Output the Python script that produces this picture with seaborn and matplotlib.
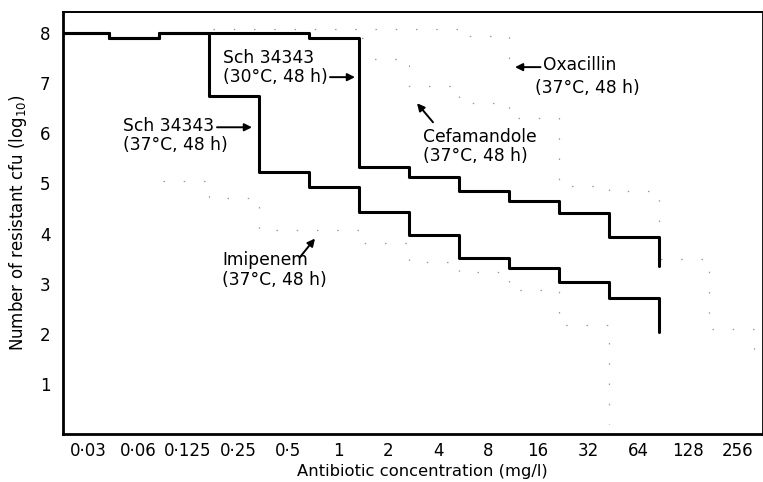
import numpy as np
import pandas as pd
import matplotlib
matplotlib.use("Agg")
import matplotlib.pyplot as plt
import seaborn as sns

# Concentration categories (mg/l), one bin per doubling
conc_labels = ["0·03", "0·06", "0·125", "0·25", "0·5", "1", "2", "4",
               "8", "16", "32", "64", "128", "256"]

# Step curves: value holds from bin edge k to k+1, last value is the final drop
sch37_edges = list(range(0, 13))
sch37_vals = [8.0, 7.9, 8.0, 6.75, 5.22, 4.92, 4.42, 3.97, 3.52, 3.32, 3.04, 2.72, 2.03]

sch30_edges = list(range(0, 13))
sch30_vals = [8.0, 7.9, 8.0, 8.0, 8.0, 7.9, 5.32, 5.12, 4.84, 4.64, 4.4, 3.94, 3.35]

# faint dotted traces (barely visible in the print)
oxa_edges = [3, 4, 5, 6, 7, 8, 9]
oxa_vals = [8.08, 8.08, 8.08, 8.08, 8.08, 7.94, 7.4]

cef_edges = [6, 6, 7, 8, 9, 10, 11, 12, 13, 13.9]
cef_vals = [7.9, 7.48, 6.95, 6.6, 6.3, 4.94, 4.84, 3.5, 2.1, 1.5]

imi_edges = [2, 3, 4, 5, 6, 7, 8, 9, 10, 11]
imi_vals = [5.05, 4.7, 4.08, 4.08, 3.82, 3.44, 3.24, 2.88, 2.18, 0.2]

sns.set_style("white")
plt.rcParams['font.family'] = ['DejaVu Sans']
plt.rcParams['text.color'] = 'black'
plt.rcParams['axes.labelcolor'] = 'black'
plt.rcParams['xtick.color'] = 'black'
plt.rcParams['ytick.color'] = 'black'

fig = plt.figure(figsize=(7.63, 4.82), dpi=100)
ax = fig.add_axes([63 / 763, 48 / 482, 700 / 763, 422 / 482])

shift = 0.08  # the printed steps sit a hair left of the tick marks


def steps(edges, vals):
    x = np.array(edges, dtype=float)
    x[1:] = x[1:] - shift
    return pd.DataFrame({"x": x, "y": vals})


for e, v in [(oxa_edges, oxa_vals), (cef_edges, cef_vals), (imi_edges, imi_vals)]:
    d = steps(e, v)
    sns.lineplot(data=d, x="x", y="y", ax=ax, drawstyle="steps-post", sort=False,
                 estimator=None, color="black", lw=0.9, alpha=0.4,
                 linestyle=(0, (1.2, 15)))

for e, v in [(sch30_edges, sch30_vals), (sch37_edges, sch37_vals)]:
    d = steps(e, v)
    sns.lineplot(data=d, x="x", y="y", ax=ax, drawstyle="steps-post", sort=False,
                 estimator=None, color="black", lw=2.2)

ax.set_xlim(0, 14)
ax.set_ylim(0, 8.42)

ax.set_xticks(np.arange(1, 15))
ax.set_xticklabels([])
ax.set_xticks(np.arange(len(conc_labels)) + 0.5, minor=True)
ax.set_xticklabels(conc_labels, minor=True, fontsize=12)
ax.set_yticks(range(1, 9))
ax.set_yticklabels([str(i) for i in range(1, 9)], fontsize=12)

ax.tick_params(axis="x", which="major", direction="in", length=9, width=1.6)
ax.tick_params(axis="x", which="minor", length=0, pad=6)
ax.tick_params(axis="y", direction="in", length=9, width=1.6, pad=9)

for s in ax.spines.values():
    s.set_color("black")
    s.set_linewidth(2.0)
ax.spines["top"].set_linewidth(1.4)

ax.set_xlabel("Antibiotic concentration (mg/l)", fontsize=11.8, labelpad=2)
ax.xaxis.set_label_coords(0.513, -0.07)
ax.set_ylabel(r"Number of resistant cfu (log$_{10}$)", fontsize=12, labelpad=8)

fs = 12.3
arrow = dict(arrowstyle="-|>", color="black", lw=1.4, mutation_scale=11,
             shrinkA=0, shrinkB=0)

ax.text(3.2, 7.31, "Sch 34343\n(30°C, 48 h)", fontsize=fs, ha="left", va="center",
        linespacing=1.1)
ax.annotate("", xy=(5.84, 7.12), xytext=(5.34, 7.12), arrowprops=arrow)

ax.text(1.2, 5.96, "Sch 34343\n(37°C, 48 h)", fontsize=fs, ha="left", va="center",
        linespacing=1.1)
ax.annotate("", xy=(3.78, 6.12), xytext=(3.08, 6.12), arrowprops=arrow)

ax.text(9.6, 7.36, "Oxacillin", fontsize=fs, ha="left", va="center")
ax.text(9.44, 6.9, "(37°C, 48 h)", fontsize=fs, ha="left", va="center")
ax.annotate("", xy=(9.04, 7.32), xytext=(9.55, 7.32), arrowprops=arrow)

ax.text(7.2, 5.74, "Cefamandole\n(37°C, 48 h)", fontsize=fs, ha="left", va="center",
        linespacing=1.1)
ax.annotate("", xy=(7.08, 6.6), xytext=(7.4, 6.22), arrowprops=arrow)

ax.text(3.18, 3.27, "Imipenem\n(37°C, 48 h)", fontsize=fs, ha="left", va="center",
        linespacing=1.1)
ax.annotate("", xy=(5.04, 3.9), xytext=(4.74, 3.53), arrowprops=arrow)

fig.savefig("out.png", dpi=100, facecolor="white")
